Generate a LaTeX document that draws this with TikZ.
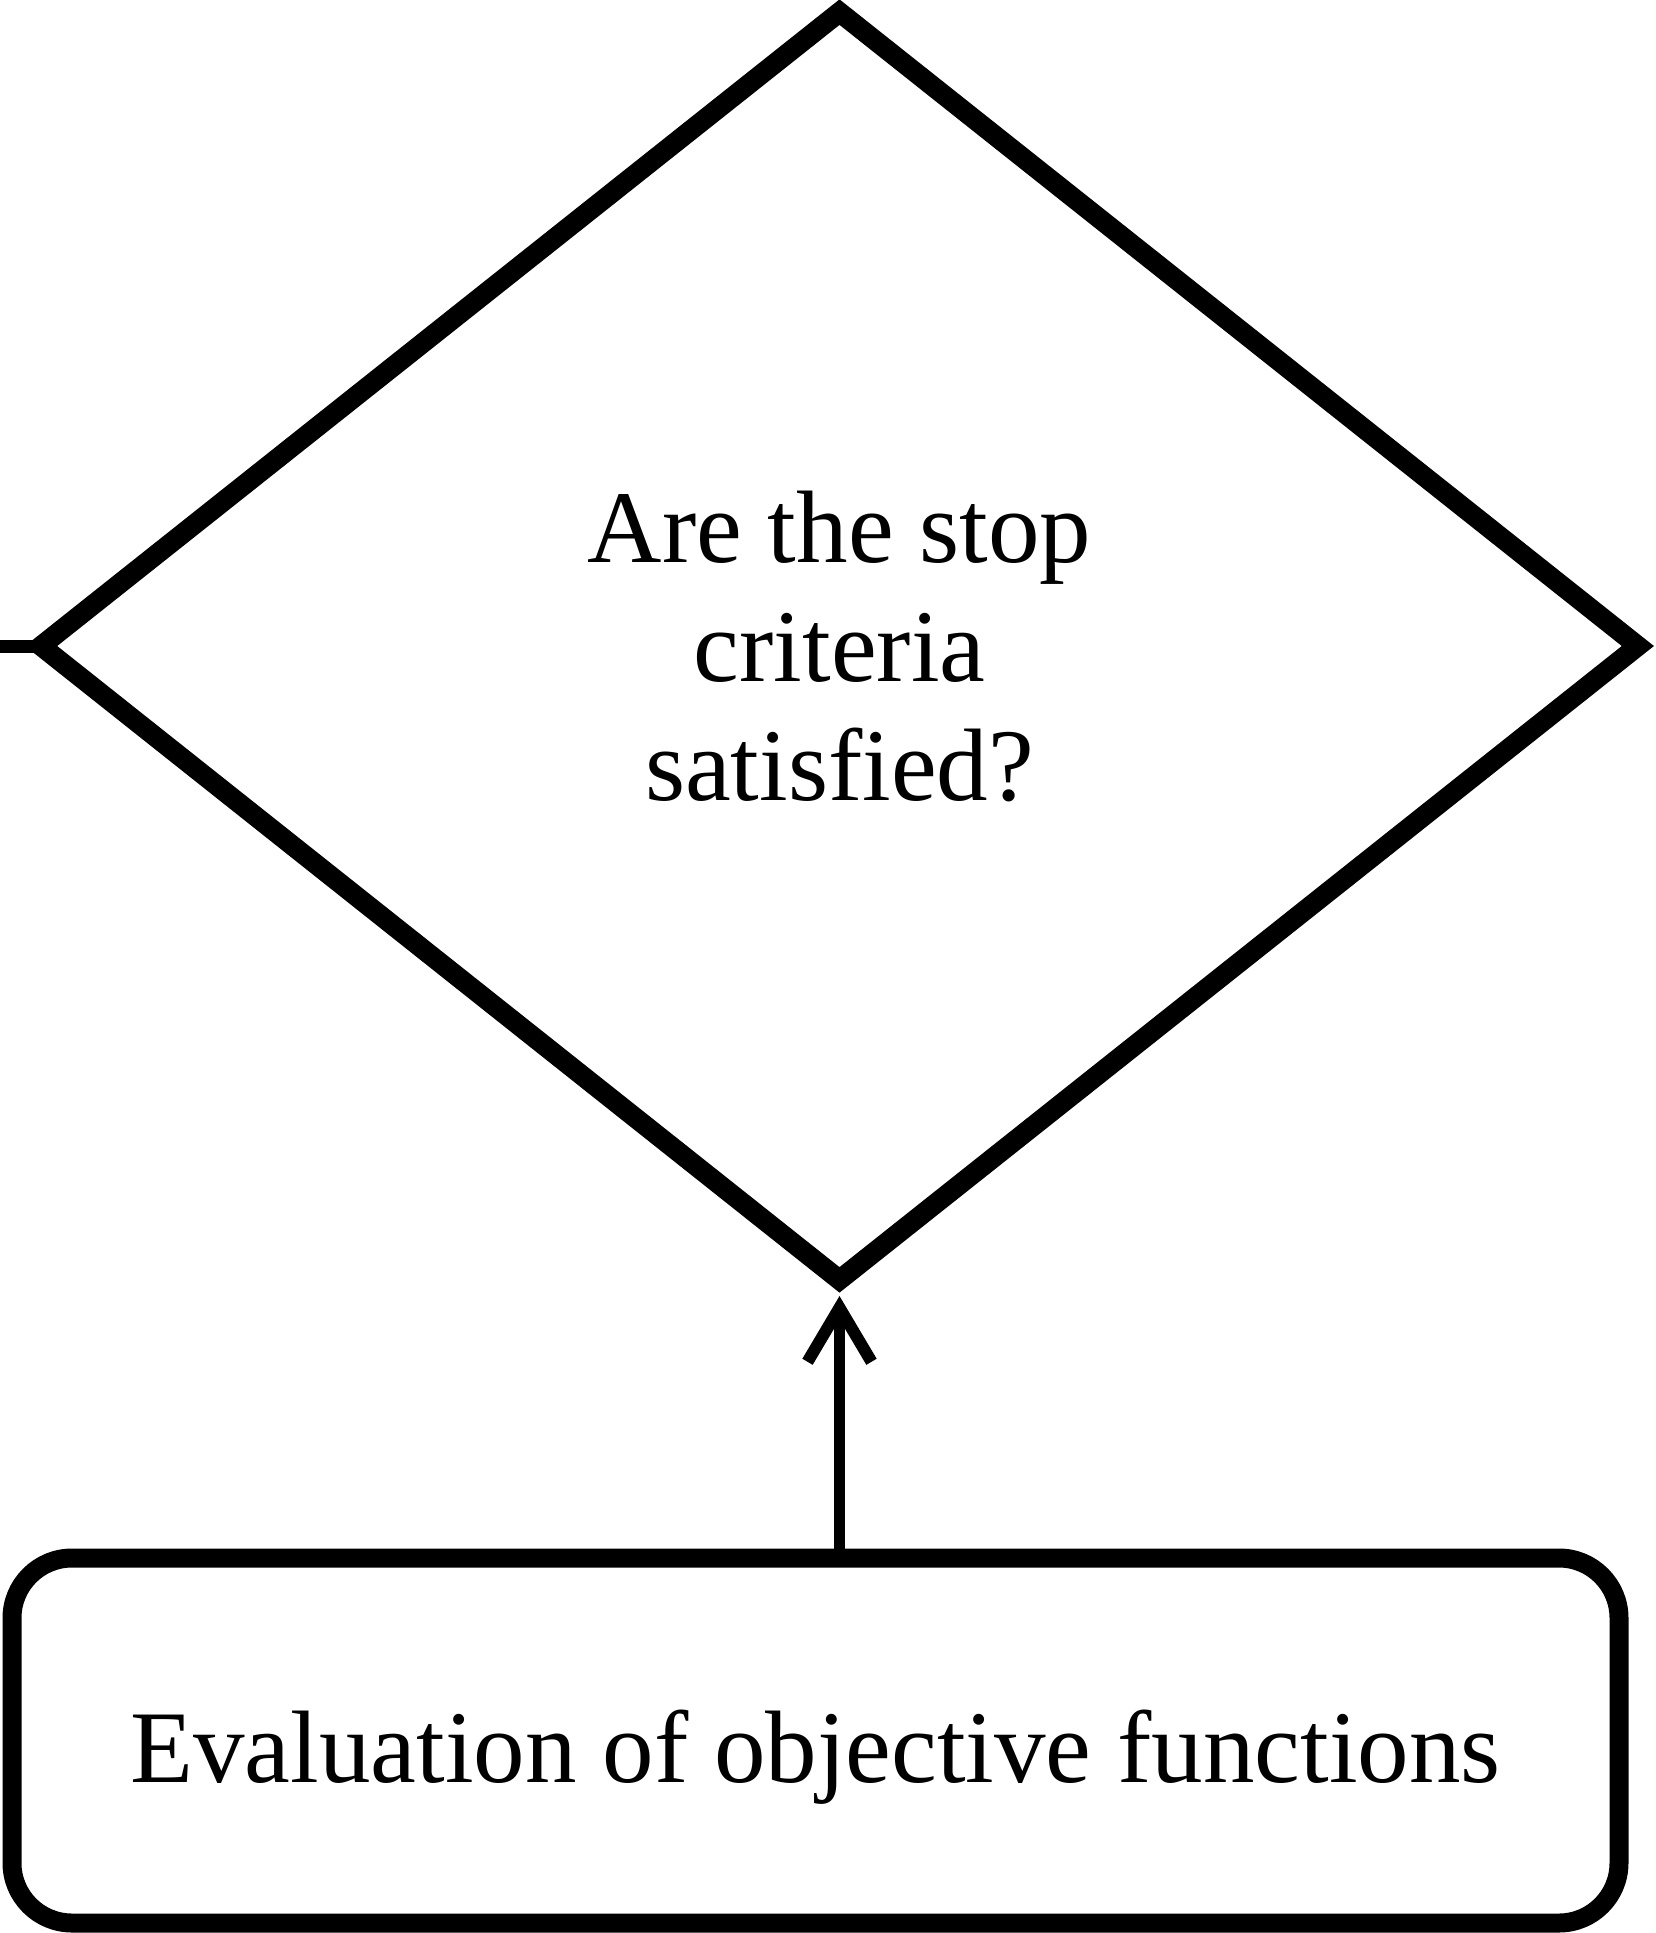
\documentclass[tikz,border=0pt]{standalone}
\usepackage{fontspec}
\setmainfont{Liberation Serif}
\usetikzlibrary{shapes.geometric,arrows.meta}

\begin{document}
\begin{tikzpicture}[x=1pt,y=-1pt,
  decision/.style={shape=diamond, draw, line width=20pt, line join=miter,
    minimum width=1605pt, minimum height=1276pt, inner sep=0pt, align=center,
    font=\fontsize{103}{119}\selectfont},
  process/.style={shape=rectangle, draw, line width=19pt, rounded corners=60pt,
    minimum width=1607pt, minimum height=365pt, inner sep=0pt,
    text height=84pt, text depth=0pt,
    font=\fontsize{103}{119}\selectfont},
  flow/.style={line width=11pt, -{Straight Barb[length=54pt,width=64pt,line width=12pt]}}]

  % page frame
  \fill[white] (0,0) rectangle (1655,1933);
  \useasboundingbox (0,0) rectangle (1655,1933);

  % decision and process blocks
  \node[decision] (stop) at (839.5,646) {Are the stop\\criteria\\satisfied?};
  \node[process] (eval) at (815.5,1740.5) {Evaluation of objective functions};

  % incoming line on the left of the decision, running into its left corner
  \coordinate (inlet) at (-5,646);
  \draw[line width=13pt] (inlet) -- ([xshift=22pt]stop.west);

  % evaluation feeds the stop test
  \coordinate (tip) at (839.5,1296);
  \draw[flow] (eval.north -| tip) -- (tip);
\end{tikzpicture}
\end{document}
